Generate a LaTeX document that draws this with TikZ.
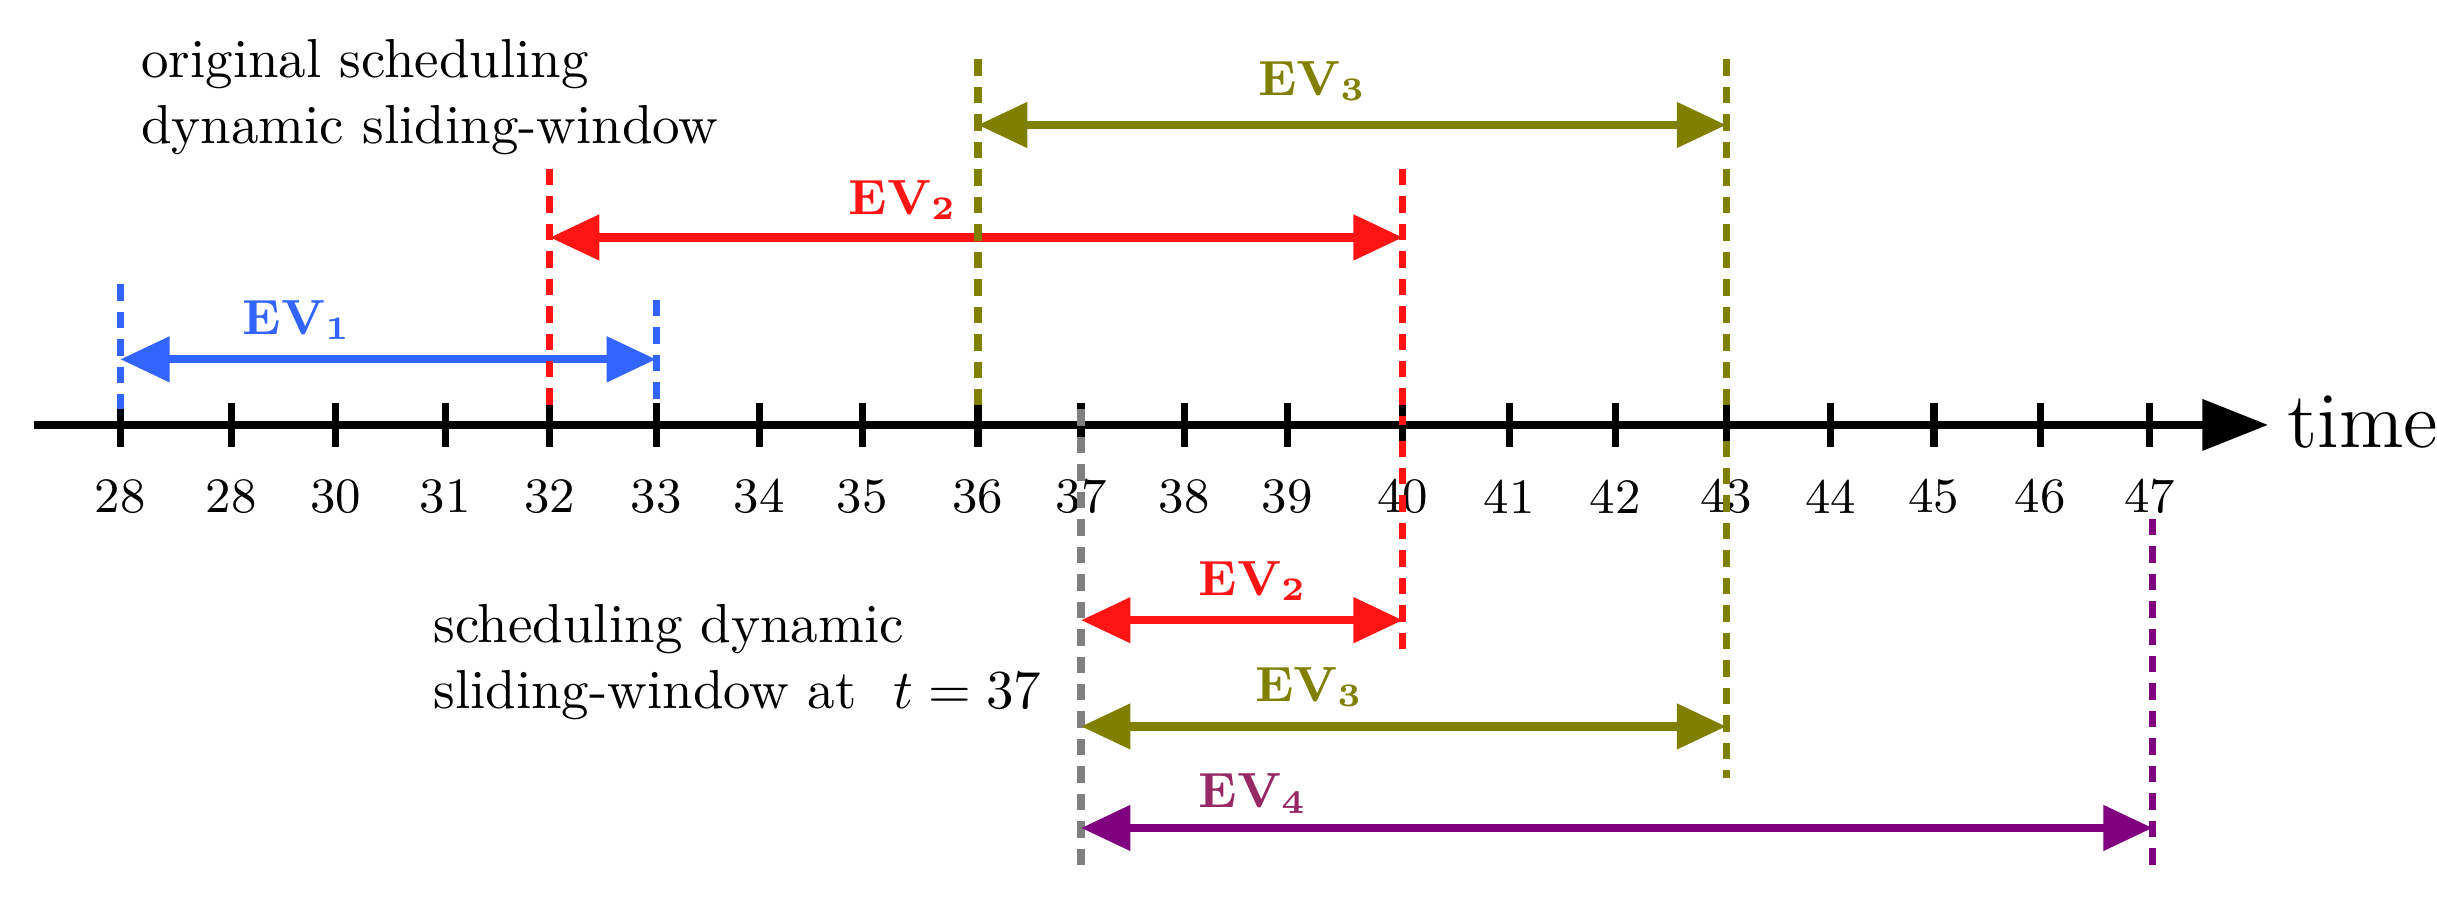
\documentclass[tikz,border=0pt]{standalone}
\usetikzlibrary{arrows.meta}
\definecolor{evblue}{RGB}{50,100,255}
\definecolor{evred}{RGB}{255,20,20}
\definecolor{evolive}{RGB}{128,128,0}
\definecolor{evpurple}{RGB}{128,0,128}
\definecolor{evfour}{RGB}{150,40,100}
\tikzset{
  vdash/.style={dashed,line width=1.3pt,dash pattern=on 3pt off 2pt},
  span/.style={line width=1.5pt,{Triangle[length=9pt,width=8pt]}-{Triangle[length=9pt,width=8pt]}},
  evlab/.style={font=\bfseries\small},
  ticklab/.style={font=\small},
  txt/.style={align=left,anchor=west,font=\normalsize}
}
\begin{document}
\begin{tikzpicture}[x=0.01cm,y=-0.01cm]
\useasboundingbox (0,0) rectangle (1560,575);
% axis
\coordinate (as) at (22,272); \coordinate (ae) at (1452,272);
\draw[line width=1.6pt,-{Triangle[length=12pt,width=9pt]}] (as) -- (ae);
\node[font=\Large,anchor=west] (time) at (1452,270) {time};
\foreach \x/\l in {77/28,148/28,215/30,285/31,352/32,420/33,486/34,552/35,626/36,692/37,758/38,824/39,898/40,966/41,1034/42,1105/43,1172/44,1238/45,1306/46,1376/47}{
  \draw[line width=1.3pt] (\x,258) -- (\x,286);
  \node[ticklab] (t\l x\x) at (\x,318) {\l};
}
% text
\node[txt] (orig) at (78,62) {original scheduling\\dynamic sliding-window};
\node[txt] (dyn) at (265,424) {scheduling dynamic\\sliding-window at \ $t=37$};
% EV1
\coordinate (b1t) at (77,182); \coordinate (b1b) at (77,262);
\coordinate (b2t) at (420,192); \coordinate (b2b) at (420,262);
\draw[vdash,evblue] (b1t) -- (b1b); \draw[vdash,evblue] (b2t) -- (b2b);
\draw[span,evblue] (77,230) -- (420,230);
\node[evlab,evblue] (ev1) at (190,205) {EV\textsubscript{1}};
% EV2
\draw[vdash,evred] (352,108) -- (352,262);
\draw[vdash,evred] (898,108) -- (898,272);
\draw[span,evred] (352,152) -- (898,152);
\node[evlab,evred] (ev2) at (578,128) {EV\textsubscript{2}};
% EV3
\draw[vdash,evolive] (626,38) -- (626,262);
\draw[vdash,evolive] (1105,38) -- (1105,262);
\draw[span,evolive] (626,80) -- (1105,80);
\node[evlab,evolive] (ev3) at (840,52) {EV\textsubscript{3}};
% lower
\draw[vdash,gray] (692,262) -- (692,555);
\draw[vdash,evred] (898,282) -- (898,420);
\draw[span,evred] (692,397) -- (898,397);
\node[evlab,evred] (ev2b) at (802,372) {EV\textsubscript{2}};
\draw[vdash,evolive] (1105,282) -- (1105,498);
\draw[span,evolive] (692,465) -- (1105,465);
\node[evlab,evolive] (ev3b) at (838,440) {EV\textsubscript{3}};
\draw[vdash,evpurple] (1378,332) -- (1378,555);
\draw[span,evpurple] (692,530) -- (1378,530);
\node[evlab,evfour] (ev4) at (802,508) {EV\textsubscript{4}};
\end{tikzpicture}
\end{document}
